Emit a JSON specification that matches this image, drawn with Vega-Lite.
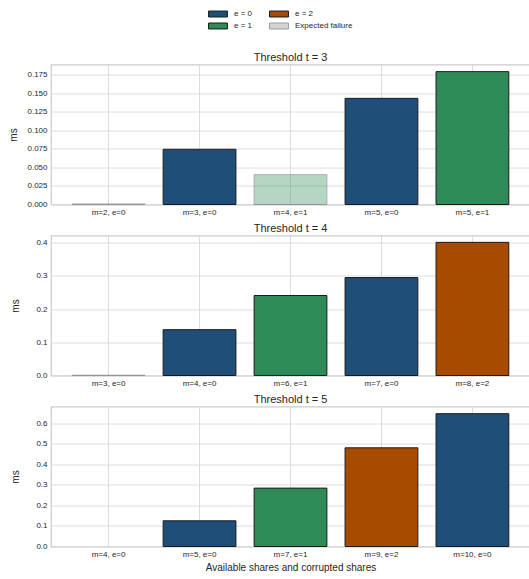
{
  "$schema": "https://vega.github.io/schema/vega-lite/v6.json",
  "padding": {"left": 8, "top": 9.5, "right": 0, "bottom": 2},
  "background": "white",
  "datasets": {
    "bars": [
      {"panel": 3, "label": "m=2, e=0", "e": "e = 0", "ms": 0.0008, "failure": "yes"},
      {"panel": 3, "label": "m=3, e=0", "e": "e = 0", "ms": 0.0744, "failure": "no"},
      {"panel": 3, "label": "m=4, e=1", "e": "e = 1", "ms": 0.0402, "failure": "yes"},
      {"panel": 3, "label": "m=5, e=0", "e": "e = 0", "ms": 0.143, "failure": "no"},
      {"panel": 3, "label": "m=5, e=1", "e": "e = 1", "ms": 0.179, "failure": "no"},
      {"panel": 4, "label": "m=3, e=0", "e": "e = 0", "ms": 0.001, "failure": "yes"},
      {"panel": 4, "label": "m=4, e=0", "e": "e = 0", "ms": 0.138, "failure": "no"},
      {"panel": 4, "label": "m=6, e=1", "e": "e = 1", "ms": 0.241, "failure": "no"},
      {"panel": 4, "label": "m=7, e=0", "e": "e = 0", "ms": 0.295, "failure": "no"},
      {"panel": 4, "label": "m=8, e=2", "e": "e = 2", "ms": 0.401, "failure": "no"},
      {"panel": 5, "label": "m=4, e=0", "e": "e = 0", "ms": null, "failure": "yes"},
      {"panel": 5, "label": "m=5, e=0", "e": "e = 0", "ms": 0.125, "failure": "no"},
      {"panel": 5, "label": "m=7, e=1", "e": "e = 1", "ms": 0.284, "failure": "no"},
      {"panel": 5, "label": "m=9, e=2", "e": "e = 2", "ms": 0.480, "failure": "no"},
      {"panel": 5, "label": "m=10, e=0", "e": "e = 0", "ms": 0.646, "failure": "no"}
    ]
  },
  "config": {
    "font": "Liberation Sans",
    "view": {"stroke": "#cccccc", "strokeWidth": 1.25},
    "axis": {
      "gridColor": "#dcdcdc",
      "gridWidth": 1,
      "domain": false,
      "ticks": false,
      "labelColor": "#262626",
      "titleColor": "#262626",
      "labelFontSize": 8,
      "titleFontWeight": "normal",
      "titleFontSize": 10
    },
    "title": {"fontSize": 11, "fontWeight": "normal", "color": "#262626", "offset": 2},
    "legend": {"labelFontSize": 8, "labelColor": "#262626"}
  },
  "resolve": {"scale": {"y": "independent", "x": "independent"}},
  "spacing": 4,
  "vconcat": [
    {
      "width": 479, "height": 140,
      "title": "Threshold t = 3",
      "data": {"name": "bars"},
      "transform": [{"filter": "datum.panel == 3"}],
      "mark": {"type": "bar", "strokeWidth": 1},
      "encoding": {
        "x": {"field": "label", "type": "nominal", "sort": null, "title": null,
              "scale": {"paddingInner": 0.2, "paddingOuter": 0.233},
              "axis": {"labelAngle": 0, "grid": true, "bandPosition": 0.5, "labelPadding": 4}},
        "y": {"field": "ms", "type": "quantitative", "title": "ms",
              "scale": {"domain": [0, 0.1886], "nice": false},
              "axis": {"values": [0, 0.025, 0.05, 0.075, 0.1, 0.125, 0.15, 0.175], "format": ".3f", "titlePadding": 8, "labelPadding": 4}},
        "color": {"field": "e", "type": "nominal",
                  "scale": {"domain": ["e = 0", "e = 1", "e = 2", "Expected failure"], "range": ["#1f4e79", "#2e8b57", "#a64b00", "#d3d3d3"]},
                  "legend": {"title": null, "orient": "none", "legendX": 163, "legendY": -54.5, "columns": 2, "columnPadding": 14, "rowPadding": 2, "symbolType": "M-2.7,-0.85H2.7V0.85H-2.7Z", "symbolSize": 49, "symbolStrokeWidth": 1, "symbolOpacity": 1, "labelOffset": 12}},
        "stroke": {"field": "e", "type": "nominal",
                   "scale": {"domain": ["e = 0", "e = 1", "e = 2", "Expected failure"], "range": ["#1a1a1a", "#1a1a1a", "#1a1a1a", "#9a9a9a"]},
                   "legend": {"title": null, "orient": "none", "legendX": 163, "legendY": -54.5, "columns": 2}},
        "opacity": {"field": "failure", "type": "nominal", "scale": {"domain": ["no", "yes"], "range": [1, 0.35]}, "legend": null}
      }
    },
    {
      "width": 479, "height": 140,
      "title": "Threshold t = 4",
      "data": {"name": "bars"},
      "transform": [{"filter": "datum.panel == 4"}],
      "mark": {"type": "bar", "strokeWidth": 1},
      "encoding": {
        "x": {"field": "label", "type": "nominal", "sort": null, "title": null,
              "scale": {"paddingInner": 0.2, "paddingOuter": 0.233},
              "axis": {"labelAngle": 0, "grid": true, "bandPosition": 0.5, "labelPadding": 4}},
        "y": {"field": "ms", "type": "quantitative", "title": "ms",
              "scale": {"domain": [0, 0.4217], "nice": false},
              "axis": {"values": [0, 0.1, 0.2, 0.3, 0.4], "format": ".1f", "titlePadding": 15, "labelPadding": 4}},
        "color": {"field": "e", "type": "nominal",
                  "scale": {"domain": ["e = 0", "e = 1", "e = 2", "Expected failure"], "range": ["#1f4e79", "#2e8b57", "#a64b00", "#d3d3d3"]}},
        "stroke": {"field": "e", "type": "nominal",
                   "scale": {"domain": ["e = 0", "e = 1", "e = 2", "Expected failure"], "range": ["#1a1a1a", "#1a1a1a", "#1a1a1a", "#9a9a9a"]}},
        "opacity": {"field": "failure", "type": "nominal", "scale": {"domain": ["no", "yes"], "range": [1, 0.35]}, "legend": null}
      }
    },
    {
      "width": 479, "height": 140,
      "title": "Threshold t = 5",
      "data": {"name": "bars"},
      "transform": [{"filter": "datum.panel == 5"}],
      "mark": {"type": "bar", "strokeWidth": 1},
      "encoding": {
        "x": {"field": "label", "type": "nominal", "sort": null, "title": "Available shares and corrupted shares",
              "scale": {"domain": ["m=4, e=0", "m=5, e=0", "m=7, e=1", "m=9, e=2", "m=10, e=0"], "paddingInner": 0.2, "paddingOuter": 0.233},
              "axis": {"labelAngle": 0, "grid": true, "bandPosition": 0.5, "labelPadding": 4, "titlePadding": 4}},
        "y": {"field": "ms", "type": "quantitative", "title": "ms",
              "scale": {"domain": [0, 0.681], "nice": false},
              "axis": {"values": [0, 0.1, 0.2, 0.3, 0.4, 0.5, 0.6], "format": ".1f", "titlePadding": 15, "labelPadding": 4}},
        "color": {"field": "e", "type": "nominal",
                  "scale": {"domain": ["e = 0", "e = 1", "e = 2", "Expected failure"], "range": ["#1f4e79", "#2e8b57", "#a64b00", "#d3d3d3"]}},
        "stroke": {"field": "e", "type": "nominal",
                   "scale": {"domain": ["e = 0", "e = 1", "e = 2", "Expected failure"], "range": ["#1a1a1a", "#1a1a1a", "#1a1a1a", "#9a9a9a"]}},
        "opacity": {"field": "failure", "type": "nominal", "scale": {"domain": ["no", "yes"], "range": [1, 0.35]}, "legend": null}
      }
    }
  ]
}
